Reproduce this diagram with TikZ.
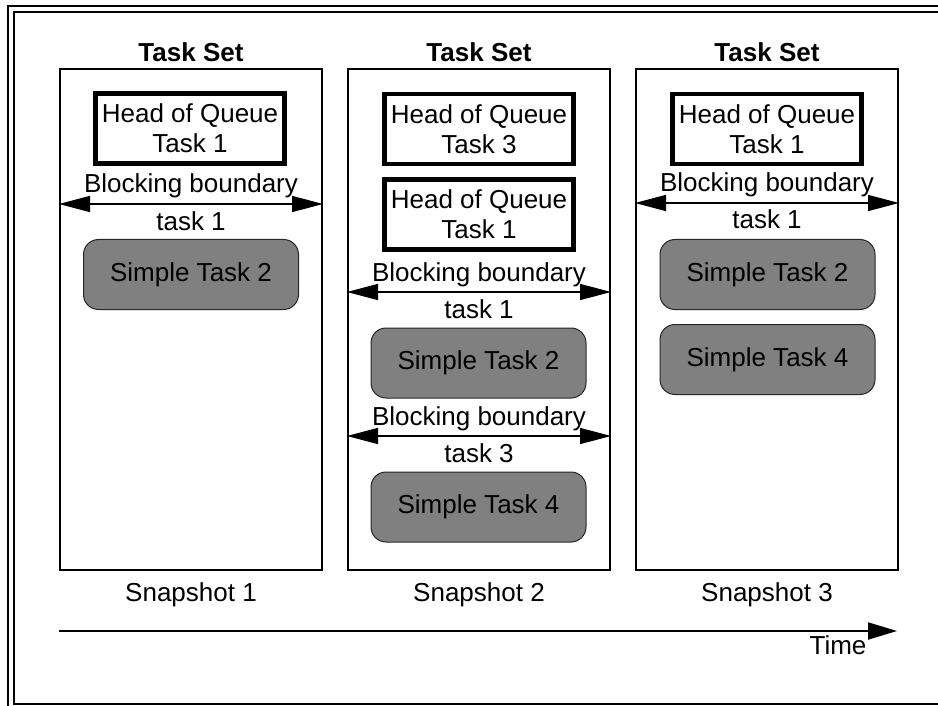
\documentclass[tikz,border=0pt]{standalone}
\usepackage{fontspec}
\setmainfont{Liberation Sans}
\usetikzlibrary{arrows.meta}
\definecolor{taskgray}{RGB}{128,128,128}
\begin{document}
\begin{tikzpicture}[x=1pt,y=-1pt,
  every node/.style={font=\fontsize{26}{30}\selectfont, inner sep=0pt},
  colbox/.style={draw, line width=2pt, minimum width=262pt, minimum height=501pt},
  settitle/.style={font=\fontsize{26}{30}\selectfont\bfseries, anchor=base},
  headbox/.style={draw, line width=4.7pt, minimum width=189pt, minimum height=70pt, align=center},
  simplebox/.style={draw=black!85, line width=1pt, fill=taskgray, rounded corners=15pt, minimum width=215pt, minimum height=70pt},
  lbl/.style={anchor=base},
  blockarrow/.style={{Triangle[length=31pt,width=16pt]}-{Triangle[length=31pt,width=16pt]}, line width=1.6pt},
  timearrow/.style={-{Triangle[length=29pt,width=17pt]}, line width=2pt}]
\useasboundingbox (0,0) rectangle (938,706);
\begin{scope}
\clip (0,0) rectangle (938,706);
\draw[line width=2pt] (7.5,720) -- (7.5,6.5) -- (960,6.5);
\draw[line width=2pt] (960,704) -- (13.5,704) -- (13.5,12.5) -- (960,12.5);
\end{scope}

% column 1
\node[colbox] (c1) at (191,319.5) {};
\node[settitle] (t1) at (191,62) {Task Set};
\node[headbox] (h1) at (190,128.5) {Head of Queue\\Task 1};
\coordinate (a1l) at (59,204);
\coordinate (a1r) at (323,204);
\draw[blockarrow] (a1l) -- (a1r);
\node[lbl] (b1) at (191,193) {Blocking boundary};
\node[lbl] (k1) at (191,230) {task 1};
\node[simplebox] (s12) at (191,274.5) {Simple Task 2};
\node[lbl] (n1) at (191,601) {Snapshot 1};

% column 2
\node[colbox] (c2) at (479,319.5) {};
\node[settitle] (t2) at (479,62) {Task Set};
\node[headbox] (h23) at (479,129) {Head of Queue\\Task 3};
\node[headbox] (h21) at (479,214.5) {Head of Queue\\Task 1};
\coordinate (a2l) at (347,292);
\coordinate (a2r) at (611,292);
\draw[blockarrow] (a2l) -- (a2r);
\node[lbl] (b2) at (479,281) {Blocking boundary};
\node[lbl] (k2) at (479,318) {task 1};
\node[simplebox] (s22) at (478.5,363) {Simple Task 2};
\coordinate (a3l) at (347,436);
\coordinate (a3r) at (611,436);
\draw[blockarrow] (a3l) -- (a3r);
\node[lbl] (b3) at (479,425) {Blocking boundary};
\node[lbl] (k3) at (479,462) {task 3};
\node[simplebox] (s24) at (478.5,507) {Simple Task 4};
\node[lbl] (n2) at (479,601) {Snapshot 2};

% column 3
\node[colbox] (c3) at (767,319.5) {};
\node[settitle] (t3) at (767,62) {Task Set};
\node[headbox] (h3) at (767,129) {Head of Queue\\Task 1};
\coordinate (a4l) at (635,203);
\coordinate (a4r) at (899,203);
\draw[blockarrow] (a4l) -- (a4r);
\node[lbl] (b4) at (767,192) {Blocking boundary};
\node[lbl] (k4) at (767,229) {task 1};
\node[simplebox] (s32) at (767.5,274.5) {Simple Task 2};
\node[simplebox] (s34) at (767.5,359.5) {Simple Task 4};
\node[lbl] (n3) at (767,601) {Snapshot 3};

% time axis
\coordinate (tl) at (59,631);
\coordinate (tr) at (897,631);
\draw[timearrow] (tl) -- (tr);
\node[lbl] (time) at (838,654) {Time};
\end{tikzpicture}
\end{document}
